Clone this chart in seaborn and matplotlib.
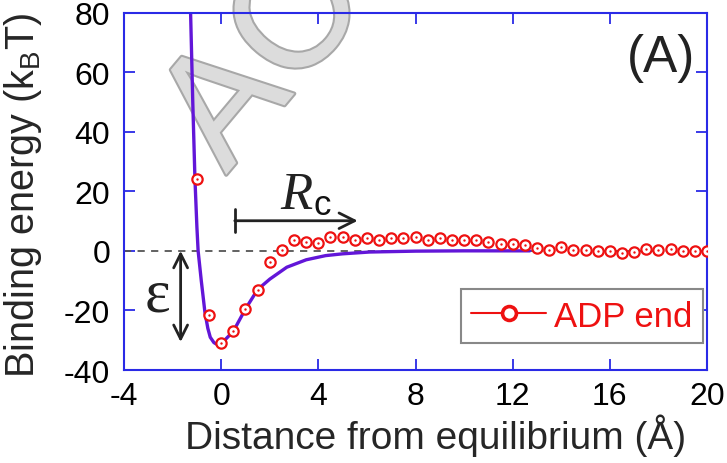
import numpy as np
import pandas as pd
import matplotlib
matplotlib.use("Agg")
import matplotlib.pyplot as plt
import matplotlib.patheffects as pe
from matplotlib.lines import Line2D
import seaborn as sns

# ADP end binding energy
adp_x = [-1.0, -0.5, 0.0, 0.5, 1.0, 1.5, 2.0, 2.5, 3.0, 3.5, 4.0, 4.5, 5.0, 5.5,
         6.0, 6.5, 7.0, 7.5, 8.0, 8.5, 9.0, 9.5, 10.0, 10.5, 11.0, 11.5, 12.0,
         12.5, 13.0, 13.5, 14.0, 14.5, 15.0, 15.5, 16.0, 16.5, 17.0, 17.5, 18.0,
         18.5, 19.0, 19.5, 20.0]
adp_y = [24.2, -21.5, -31.0, -27.0, -19.5, -13.0, -3.8, 0.3, 3.6, 2.9, 2.6, 4.7,
         4.7, 3.8, 4.4, 3.8, 4.4, 4.4, 4.7, 3.8, 4.4, 3.5, 3.5, 3.5, 3.1, 2.4,
         2.4, 2.0, 0.9, 0.4, 1.2, 0.4, 0.3, -0.1, 0.1, -0.7, -0.4, 0.7, 0.4,
         0.7, -0.1, 0.1, -0.2]

# fitted potential curve (purple)
curve_x = [-1.26, -1.17, -1.08, -1.00, -0.95, -0.82, -0.67, -0.55, -0.45, -0.30,
           -0.15, 0.0, 0.5, 1.0, 1.5, 2.0, 2.7, 3.5, 4.3, 5.0, 6.1, 8.0, 10.0, 12.7]
curve_y = [80, 50, 24, 8, 0, -10, -20.6, -26, -29, -30.8, -31.5, -31.2, -27,
           -19.5, -13, -9.5, -5.5, -3.0, -1.6, -1.0, -0.4, -0.1, 0, 0]

x_ticks = [-4, 0, 4, 8, 12, 16, 20]
y_ticks = [-40, -20, 0, 20, 40, 60, 80]

sns.set_theme(style="ticks")
plt.rcParams["font.family"] = ["Liberation Sans", "DejaVu Sans"]
plt.rcParams["mathtext.fontset"] = "custom"
plt.rcParams["mathtext.rm"] = "Liberation Sans"
plt.rcParams["axes.unicode_minus"] = False

blue = "#2a2ae6"
purple = "#6216d8"

fig = plt.figure(figsize=(7.27, 4.64), dpi=100)
ax = fig.add_axes([0.1706, 0.2004, 0.8019, 0.7705])
ax.set_facecolor("none")

# watermark behind the axes
fig.text(226 / 727, 1 - 176 / 464, "ACCEPTED MANUSCRIPT", fontsize=115,
         rotation=50, rotation_mode="anchor", ha="left", va="baseline",
         color="#dcdcdc", zorder=-1,
         path_effects=[pe.withStroke(linewidth=3, foreground="#a8a8a8")])

ax.axhline(0, color="#555555", lw=1.3, ls=(0, (4, 3.5)), zorder=1)

sns.lineplot(x=curve_x, y=curve_y, sort=False, color=purple, lw=2.4, ax=ax,
             zorder=2)
sns.scatterplot(x=adp_x, y=adp_y, marker="o", s=55, facecolor="white",
                edgecolor="#ee1111", linewidth=1.6, ax=ax, zorder=3)
sns.scatterplot(x=adp_x, y=adp_y, marker="o", s=3, color="#ee1111",
                linewidth=0, ax=ax, zorder=4)

ax.set_xlim(-4, 20)
ax.set_ylim(-40, 80)
ax.set_xticks(x_ticks)
ax.set_yticks(y_ticks)

for s in ax.spines.values():
    s.set_color(blue)
    s.set_linewidth(1.5)
ax.tick_params(direction="in", length=8, width=1.3, color=blue,
               top=True, right=True, labelsize=23, labelcolor="black")
ax.tick_params(axis="x", pad=8)
ax.tick_params(axis="y", pad=10)

ax.set_xlabel("Distance from equilibrium (Å)", fontsize=28)
ax.set_ylabel("Binding energy (k$_{\\mathregular{B}}$T)", fontsize=28.5)
ax.xaxis.set_label_coords(0.535, -0.122)
ax.yaxis.set_label_coords(-0.138, 0.49)

# epsilon depth arrow
ax.annotate("", xy=(-1.67, 0), xytext=(-1.67, -30.6),
            arrowprops=dict(arrowstyle="<->,head_length=0.5,head_width=0.25",
                            color="#222222", lw=2, mutation_scale=20,
                            shrinkA=0, shrinkB=0))
ax.text(-2.64, -15, "ε", fontsize=44, family="Liberation Serif",
        ha="center", va="center", color="#222222")

# cutoff arrow
ax.annotate("", xy=(5.62, 10.1), xytext=(0.56, 10.1),
            arrowprops=dict(arrowstyle="]->,widthA=0.3,lengthA=0",
                            color="#222222", lw=2, mutation_scale=28,
                            shrinkA=0, shrinkB=0))
ax.text(3.1, 14.5, "R", fontsize=38, family="Liberation Serif",
        style="italic", ha="center", va="baseline", color="#222222")
ax.text(3.8, 12.2, "c", fontsize=25, ha="left", va="baseline",
        color="#111111")

ax.text(0.921, 0.873, "(A)", transform=ax.transAxes, fontsize=37,
        ha="center", va="center", color="#222222")

handle = Line2D([], [], color="#ee1111", lw=1.5, marker="o", markersize=10,
                markerfacecolor="white", markeredgecolor="#ee1111",
                markeredgewidth=2.6)
leg = ax.legend([handle], ["ADP end"], loc="lower right",
                bbox_to_anchor=(0.9931, 0.0755), borderaxespad=0,
                fontsize=25, handlelength=2.16, handletextpad=0.23,
                borderpad=0.3, fancybox=False, framealpha=1,
                edgecolor="#888888")
leg.get_frame().set_linewidth(1.5)
for t in leg.get_texts():
    t.set_color("#ee1111")

fig.savefig("out.png", dpi=100)
